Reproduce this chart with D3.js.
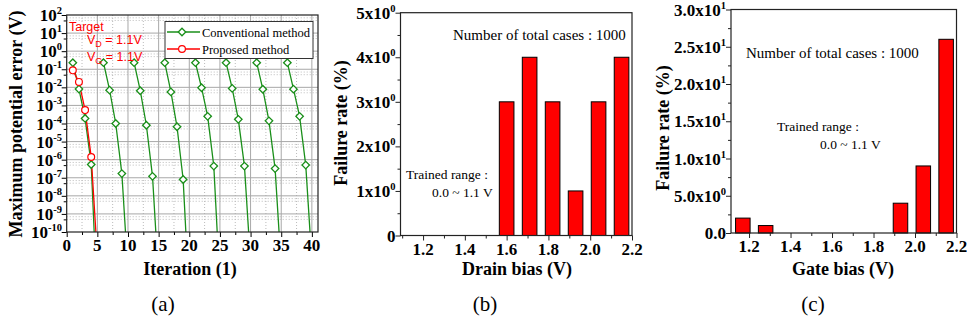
<!DOCTYPE html>
<html><head><meta charset="utf-8">
<script src="https://cdn.jsdelivr.net/npm/d3@7"></script>
<style>
body{margin:0;background:#fff}
svg{display:block}
text{font-family:"Liberation Serif","Times New Roman",serif;fill:#000}
</style></head>
<body><svg id="chart" width="967" height="323"></svg>
<script>
// ---------------- DATA ----------------
// (a) Maximum potential error vs iteration
const convStartIter = [1, 6, 11, 16, 21, 26, 31, 36];
const convError = [
  [0.23, 8e-3, 1.9e-4, 5.4e-7, 1e-14],
  [0.23, 7e-3, 1.0e-4, 1.7e-7, 6e-13],
  [0.23, 6.5e-3, 8e-5, 1.2e-7, 2.5e-13],
  [0.23, 5.6e-3, 6.6e-5, 8e-8, 2e-14],
  [0.23, 9.5e-3, 2.5e-4, 4.4e-7, 1.2e-13],
  [0.23, 8.7e-3, 1.7e-4, 4.4e-7, 2e-12],
  [0.23, 7.8e-3, 1.4e-4, 3.2e-7, 1.2e-12],
  [0.23, 7.9e-3, 2.5e-4, 5e-7, 2.5e-12]
];
const propIter = [1, 2, 3, 4, 5];
const propError = [0.087, 0.02, 5.5e-4, 1.4e-6, 5e-12];
const aXTicks = [0, 5, 10, 15, 20, 25, 30, 35, 40];
const aYExp = [2, 1, 0, -1, -2, -3, -4, -5, -6, -7, -8, -9, -10];

// (b) Failure rate vs drain bias
const drainBias = [1.16, 1.27, 1.38, 1.49, 1.60, 1.71, 1.82, 1.93, 2.04, 2.15];
const drainFail = [0, 0, 0, 0, 3, 4, 3, 1, 3, 4];
const bYTicks = [0, 1, 2, 3, 4, 5];
const bYLabels = [["0", ""], ["1x10", "0"], ["2x10", "0"], ["3x10", "0"], ["4x10", "0"], ["5x10", "0"]];

// (c) Failure rate vs gate bias
const gateBias = [1.17, 1.28, 1.39, 1.50, 1.61, 1.72, 1.83, 1.93, 2.04, 2.15];
const gateFail = [2, 1, 0, 0, 0, 0, 0, 4, 9, 26];
const cYTicks = [0, 5, 10, 15, 20, 25, 30];
const cYLabels = [["0.0", ""], ["5.0x10", "0"], ["1.0x10", "1"], ["1.5x10", "1"], ["2.0x10", "1"], ["2.5x10", "1"], ["3.0x10", "1"]];
const biasTicks = [1.2, 1.4, 1.6, 1.8, 2.0, 2.2];

// ---------------- DRAW ----------------
const svg = d3.select("#chart");
const GREEN = "#1a8f1a", RED = "#ff0000";
const SANS = '"Liberation Sans", Arial, sans-serif';

function supText(g, x, y, base, sup, anchor, size) {
  const t = g.append("text").attr("x", x).attr("y", y)
    .attr("text-anchor", anchor).attr("font-weight", "bold").attr("font-size", size);
  t.append("tspan").text(base);
  if (sup) t.append("tspan").attr("dy", -7).attr("font-size", size * 0.62).text(sup);
  return t;
}

// ===== Panel (a) =====
(function () {
  const L = 66.7, R = 318, T = 15, B = 232;
  const x = d3.scaleLinear().domain([0, 41]).range([L, R]);
  const y = d3.scaleLog().domain([1e-10, 1e2]).range([B, T]);
  const g = svg.append("g");
  const defs = svg.append("defs");
  defs.append("clipPath").attr("id", "clipA").append("rect")
    .attr("x", L).attr("y", T).attr("width", R - L).attr("height", B - T);

  // minor grid
  const gridG = g.append("g");
  d3.range(2.5, 41, 5).forEach(v => {
    gridG.append("line").attr("x1", x(v)).attr("x2", x(v)).attr("y1", T).attr("y2", B)
      .attr("stroke", "#bbb").attr("stroke-width", 1).attr("stroke-dasharray", "1,2");
  });
  aYExp.slice(1).forEach(e => {
    [5, 7].forEach(m => {
      const v = m * Math.pow(10, e);
      gridG.append("line").attr("x1", L).attr("x2", R).attr("y1", y(v)).attr("y2", y(v))
        .attr("stroke", "#bbb").attr("stroke-width", 1).attr("stroke-dasharray", "1,2");
    });
  });
  // major grid
  aXTicks.slice(1).forEach(v => {
    gridG.append("line").attr("x1", x(v)).attr("x2", x(v)).attr("y1", T).attr("y2", B)
      .attr("stroke", "#a8a8a8").attr("stroke-width", 1);
  });
  aYExp.slice(1, -1).forEach(e => {
    const v = Math.pow(10, e);
    gridG.append("line").attr("x1", L).attr("x2", R).attr("y1", y(v)).attr("y2", y(v))
      .attr("stroke", "#a8a8a8").attr("stroke-width", 1);
  });

  // axes
  g.append("g").attr("transform", `translate(0,${B})`)
    .call(d3.axisBottom(x).tickValues(aXTicks).tickSize(5).tickFormat(""))
    .call(s => s.select(".domain").remove());
  g.append("g").attr("transform", `translate(0,${B})`)
    .call(d3.axisBottom(x).tickValues(d3.range(2.5, 41, 5)).tickSize(3).tickFormat(""))
    .call(s => s.select(".domain").remove());
  g.append("g").attr("transform", `translate(${L},0)`)
    .call(d3.axisLeft(y).tickValues(aYExp.map(e => Math.pow(10, e))).tickSize(5).tickFormat(""))
    .call(s => s.select(".domain").remove());
  const yMinorVals = aYExp.slice(1).map(e => 5 * Math.pow(10, e));
  g.append("g").attr("transform", `translate(${L},0)`)
    .call(d3.axisLeft(y).tickValues(yMinorVals).tickSize(3).tickFormat(""))
    .call(s => s.select(".domain").remove());

  aXTicks.forEach(v => {
    g.append("text").attr("x", x(v)).attr("y", B + 19).attr("text-anchor", "middle")
      .attr("font-weight", "bold").attr("font-size", 17).text(v);
  });
  aYExp.forEach(e => {
    supText(g, 62, y(Math.pow(10, e)) + 6, "10", String(e), "end", 17);
  });

  // lines
  const line = d3.line().x(d => x(d[0])).y(d => y(d[1]));
  const dataG = g.append("g").attr("clip-path", "url(#clipA)");
  convStartIter.forEach((s, i) => {
    const pts = convError[i].map((v, k) => [s + k, v]);
    dataG.append("path").attr("d", line(pts)).attr("fill", "none")
      .attr("stroke", GREEN).attr("stroke-width", 1.3);
  });
  const propPts = propIter.map((it, k) => [it, propError[k]]);
  dataG.append("path").attr("d", line(propPts)).attr("fill", "none")
    .attr("stroke", RED).attr("stroke-width", 1.3);
  const dia = d3.symbol().type(d3.symbolSquare).size(28)();
  convStartIter.forEach((s, i) => {
    convError[i].forEach((v, k) => {
      if (v < 1e-10) return;
      dataG.append("path").attr("d", dia)
        .attr("transform", `translate(${x(s + k)},${y(v)}) rotate(45)`)
        .attr("fill", "#fff").attr("stroke", GREEN).attr("stroke-width", 1.3);
    });
  });
  propPts.forEach(p => {
    if (p[1] < 1e-10) return;
    dataG.append("circle").attr("cx", x(p[0])).attr("cy", y(p[1])).attr("r", 3.4)
      .attr("fill", "#fff").attr("stroke", RED).attr("stroke-width", 1.2);
  });

  // frame
  g.append("rect").attr("x", L).attr("y", T).attr("width", R - L).attr("height", B - T)
    .attr("fill", "none").attr("stroke", "#222").attr("stroke-width", 1.2);

  // legend
  const lg = g.append("g");
  lg.append("rect").attr("x", 165).attr("y", 21.5).attr("width", 148).attr("height", 37)
    .attr("fill", "#fff").attr("stroke", "#333").attr("stroke-width", 1);
  lg.append("line").attr("x1", 167).attr("x2", 200).attr("y1", 32).attr("y2", 32)
    .attr("stroke", GREEN).attr("stroke-width", 1.3);
  lg.append("path").attr("d", dia)
    .attr("transform", "translate(182,32) rotate(45)")
    .attr("fill", "#fff").attr("stroke", GREEN).attr("stroke-width", 1.3);
  lg.append("text").attr("x", 202).attr("y", 36.5).attr("font-size", 12.5).text("Conventional method");
  lg.append("line").attr("x1", 167).attr("x2", 200).attr("y1", 49).attr("y2", 49)
    .attr("stroke", RED).attr("stroke-width", 1.3);
  lg.append("circle").attr("cx", 182).attr("cy", 49).attr("r", 3.4)
    .attr("fill", "#fff").attr("stroke", RED).attr("stroke-width", 1.2);
  lg.append("text").attr("x", 202).attr("y", 53.5).attr("font-size", 12.5).text("Proposed method");

  // target annotation
  g.append("text").attr("x", 69).attr("y", 31).style("font-family", SANS).attr("font-size", 12.5)
    .style("fill", RED).text("Target");
  [["D", 44], ["G", 61]].forEach(([sub, yy]) => {
    const t = g.append("text").attr("x", 87).attr("y", yy).style("font-family", SANS)
      .attr("font-size", 12.5).style("fill", RED);
    t.append("tspan").text("V");
    t.append("tspan").attr("dy", 3).attr("font-size", 9).text(sub);
    t.append("tspan").attr("dy", -3).text(" = 1.1V");
  });

  // titles
  g.append("text").attr("x", 190).attr("y", 275).attr("text-anchor", "middle")
    .attr("font-weight", "bold").attr("font-size", 18).text("Iteration (1)");
  g.append("text").attr("transform", "translate(22,124) rotate(-90)").attr("text-anchor", "middle")
    .attr("font-weight", "bold").attr("font-size", 18).text("Maximum potential error (V)");
  g.append("text").attr("x", 163).attr("y", 311).attr("text-anchor", "middle")
    .attr("font-size", 21).text("(a)");
})();

// ===== Bar panels =====
function barPanel(o) {
  const g = svg.append("g");
  const x = d3.scaleLinear().domain(o.xDom).range([o.L, o.R]);
  const y = d3.scaleLinear().domain(o.yDom).range([o.B, o.T]);
  const bw = x(o.xDom[0] + 0.07) - x(o.xDom[0]);
  o.xs.forEach((b, i) => {
    const v = o.vals[i];
    if (v <= 0) return;
    g.append("rect").attr("x", x(b) - bw / 2).attr("y", y(v)).attr("width", bw)
      .attr("height", y(0) - y(v)).attr("fill", "#ff0000").attr("stroke", "#000").attr("stroke-width", 1);
  });
  g.append("g").attr("transform", `translate(0,${o.B})`)
    .call(d3.axisBottom(x).tickValues(biasTicks).tickSize(5).tickFormat(""))
    .call(s => s.select(".domain").remove());
  g.append("g").attr("transform", `translate(0,${o.B})`)
    .call(d3.axisBottom(x).tickValues(o.xMinor).tickSize(3).tickFormat(""))
    .call(s => s.select(".domain").remove());
  g.append("g").attr("transform", `translate(${o.L},0)`)
    .call(d3.axisLeft(y).tickValues(o.yTicks).tickSize(5).tickFormat(""))
    .call(s => s.select(".domain").remove());
  g.append("g").attr("transform", `translate(${o.L},0)`)
    .call(d3.axisLeft(y).tickValues(o.yMinor).tickSize(3).tickFormat(""))
    .call(s => s.select(".domain").remove());
  g.selectAll(".tick line").attr("stroke", "#222");
  g.append("rect").attr("x", o.L).attr("y", o.T).attr("width", o.R - o.L).attr("height", o.B - o.T)
    .attr("fill", "none").attr("stroke", "#222").attr("stroke-width", 1.2);
  biasTicks.forEach(v => {
    g.append("text").attr("x", x(v)).attr("y", o.B + 19).attr("text-anchor", "middle")
      .attr("font-weight", "bold").attr("font-size", 17).text(v.toFixed(1));
  });
  o.yTicks.forEach((v, i) => {
    supText(g, o.L - 5, y(v) + 6, o.yLabels[i][0], o.yLabels[i][1], "end", 17);
  });
  g.append("text").attr("x", o.xTitleX).attr("y", 275).attr("text-anchor", "middle")
    .attr("font-weight", "bold").attr("font-size", 18).text(o.xTitle);
  g.append("text").attr("transform", `translate(${o.yTitleX},${o.yTitleY}) rotate(-90)`)
    .attr("text-anchor", "middle").attr("font-weight", "bold").attr("font-size", 18).text("Failure rate (%)");
  g.append("text").attr("x", o.tagX).attr("y", 311).attr("text-anchor", "middle")
    .attr("font-size", 21).text(o.tag);
  g.append("text").attr("x", o.n[0]).attr("y", o.n[1]).attr("font-size", 15).text("Number of total cases : 1000");
  g.append("text").attr("x", o.t1[0]).attr("y", o.t1[1]).attr("font-size", 13.5).text("Trained range :");
  g.append("text").attr("x", o.t2[0]).attr("y", o.t2[1]).attr("font-size", 13.5).text("0.0 ~ 1.1 V");
}

barPanel({
  L: 400.5, R: 632, T: 12.7, B: 235.5, xDom: [1.092, 2.2], yDom: [0, 5],
  xs: drainBias, vals: drainFail, xMinor: [1.1, 1.3, 1.5, 1.7, 1.9, 2.1],
  yTicks: bYTicks, yMinor: [0.5, 1.5, 2.5, 3.5, 4.5], yLabels: bYLabels,
  xTitle: "Drain bias (V)", xTitleX: 517, yTitleX: 347, yTitleY: 123, tag: "(b)", tagX: 485,
  n: [453, 39.5], t1: [406, 179], t2: [432, 197]
});
barPanel({
  L: 731, R: 956.5, T: 9.5, B: 233, xDom: [1.113, 2.2], yDom: [0, 30],
  xs: gateBias, vals: gateFail, xMinor: [1.3, 1.5, 1.7, 1.9, 2.1],
  yTicks: cYTicks, yMinor: [2.5, 7.5, 12.5, 17.5, 22.5, 27.5], yLabels: cYLabels,
  xTitle: "Gate bias (V)", xTitleX: 843, yTitleX: 669, yTitleY: 128, tag: "(c)", tagX: 813,
  n: [746, 58], t1: [777, 131], t2: [820, 148.5]
});
</script>
</body></html>
